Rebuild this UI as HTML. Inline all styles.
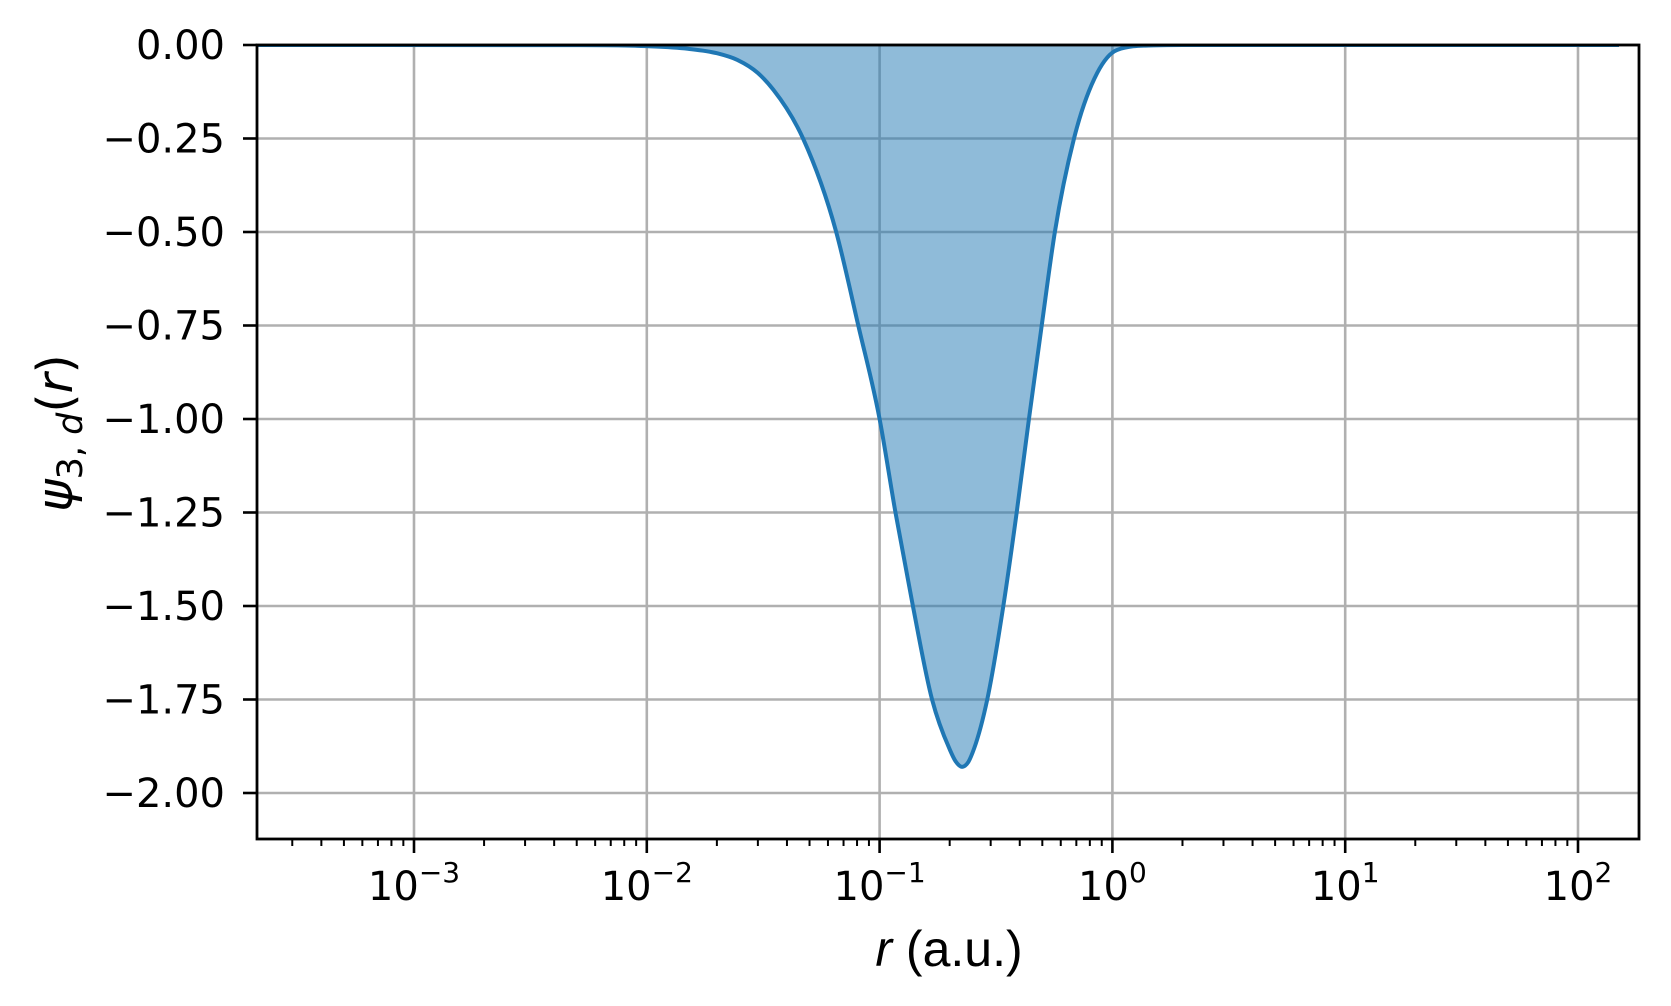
<!DOCTYPE html>
<html><head><meta charset="utf-8"><style>
html,body{margin:0;padding:0;background:#fff;}
svg{display:block;font-family:"DejaVu Sans","Liberation Sans",sans-serif;}
</style></head><body>
<svg id="chart" width="1671" height="1006" viewBox="0 0 1671 1006" xmlns="http://www.w3.org/2000/svg">
<defs><clipPath id="plotclip"><rect x="257" y="45" width="1382" height="794"/></clipPath></defs>
<g id="grid"></g>
<g id="series" clip-path="url(#plotclip)"></g>
<g id="axes"></g>
<text x="949" y="966" text-anchor="middle" font-family="Liberation Sans, sans-serif" font-size="50"><tspan font-style="italic">r</tspan> (a.u.)</text>
<text transform="translate(72,433) rotate(-90)" text-anchor="middle" font-size="49"><tspan font-style="italic">ψ</tspan><tspan font-size="35" dy="10">3, <tspan font-style="italic">d</tspan></tspan><tspan dy="-10">(<tspan font-style="italic">r</tspan>)</tspan></text>
</svg>
<script>
const rValues = [0.0002,0.005,0.01,0.015,0.02,0.0245,0.03,0.035,0.0469,0.0651,0.081,0.1,0.117,0.139,0.168,0.199,0.212,0.226,0.24,0.255,0.29,0.34,0.388,0.438,0.497,0.566,0.684,0.86,1.05,1.5,2,150];
const psiValues = [0,-0.0003,-0.003,-0.01,-0.022,-0.04,-0.075,-0.12,-0.25,-0.5,-0.75,-1.0,-1.25,-1.5,-1.75,-1.88,-1.915,-1.93,-1.918,-1.88,-1.75,-1.5,-1.25,-1.0,-0.75,-0.5,-0.25,-0.075,-0.013,-0.001,0,0];
const yTicks = [0,-0.25,-0.5,-0.75,-1.0,-1.25,-1.5,-1.75,-2.0];
const yTickLabels = ["0.00","\u22120.25","\u22120.50","\u22120.75","\u22121.00","\u22121.25","\u22121.50","\u22121.75","\u22122.00"];
const xDecades = [-3,-2,-1,0,1,2];

const L=257,R=1639,T=45,B=839;
const decPx=232.8, x0=414;
function X(r){return x0+(Math.log10(r)+3)*decPx;}
function Y(v){return T+(-v)*374;}
const NS="http://www.w3.org/2000/svg";
function mk(tag,attrs,parent){const e=document.createElementNS(NS,tag);for(const k in attrs)e.setAttribute(k,attrs[k]);parent.appendChild(e);return e;}
const grid=document.getElementById('grid'),series=document.getElementById('series'),axes=document.getElementById('axes');

yTicks.forEach((v,i)=>{
  const g=mk('line',{x1:L,x2:R,y1:Y(v),y2:Y(v),stroke:'#b0b0b0','stroke-width':2.6},grid);
  
  
  const t=mk('line',{x1:L-14,x2:L,y1:Y(v),y2:Y(v),stroke:'#000','stroke-width':2.6},axes);
  
  
  const lb=mk('text',{x:L-32,y:Y(v)+14,'text-anchor':'end','font-size':40},axes);
  lb.textContent=yTickLabels[i];
  
  
});
for(let d=-4;d<=2;d++){
  for(let m=2;m<=9;m++){
    const x=X(m*Math.pow(10,d));
    if(x<L||x>R)continue;
    const t=mk('line',{x1:x,x2:x,y1:B,y2:B+7,stroke:'#000','stroke-width':2},axes);
    
    
  }
}
xDecades.forEach(d=>{
  const x=X(Math.pow(10,d));
  const g=mk('line',{x1:x,x2:x,y1:T,y2:B,stroke:'#b0b0b0','stroke-width':2.6},grid);
  
  
  const t=mk('line',{x1:x,x2:x,y1:B,y2:B+14,stroke:'#000','stroke-width':2.6},axes);
  
  
  const lb=mk('text',{x:x,y:900,'text-anchor':'middle','font-size':40},axes);
  
  
  const sup=d<0?'\u2212'+(-d):''+d;
  lb.innerHTML='10<tspan font-size="28" dy="-18">'+sup+'</tspan>';
});

// monotone cubic interpolation in pixel space
const px=rValues.map(r=>X(r)), py=psiValues.map(v=>Y(v));
const n=px.length, dl=[], m=[];
for(let i=0;i<n-1;i++) dl.push((py[i+1]-py[i])/(px[i+1]-px[i]));
for(let i=0;i<n;i++){
  if(i===0) m.push(dl[0]); else if(i===n-1) m.push(dl[n-2]);
  else if(dl[i-1]*dl[i]<=0) m.push(0);
  else {const h0=px[i]-px[i-1],h1=px[i+1]-px[i];m.push((dl[i-1]*h1+dl[i]*h0)/(h0+h1));}
}
for(let i=0;i<n-1;i++){
  if(dl[i]===0){m[i]=0;m[i+1]=0;continue;}
  const a=m[i]/dl[i], b=m[i+1]/dl[i], s=a*a+b*b;
  if(s>9){const t=3/Math.sqrt(s);m[i]=t*a*dl[i];m[i+1]=t*b*dl[i];}
}
let d='M'+px[0]+','+py[0];
for(let i=0;i<n-1;i++){
  const h=px[i+1]-px[i];
  d+=' C'+(px[i]+h/3)+','+(py[i]+m[i]*h/3)+' '+(px[i+1]-h/3)+','+(py[i+1]-m[i+1]*h/3)+' '+px[i+1]+','+py[i+1];
}
const fill=mk('path',{d:d+' L'+px[n-1]+','+Y(0)+' L'+px[0]+','+Y(0)+'Z',fill:'#1f77b4','fill-opacity':0.5,stroke:'none'},series);


const line=mk('path',{d:d,fill:'none',stroke:'#1f77b4','stroke-width':4,'stroke-linejoin':'round'},series);



const frame=mk('rect',{x:L,y:T,width:R-L,height:B-T,fill:'none',stroke:'#000','stroke-width':2.8},axes);


</script>
</body></html>
